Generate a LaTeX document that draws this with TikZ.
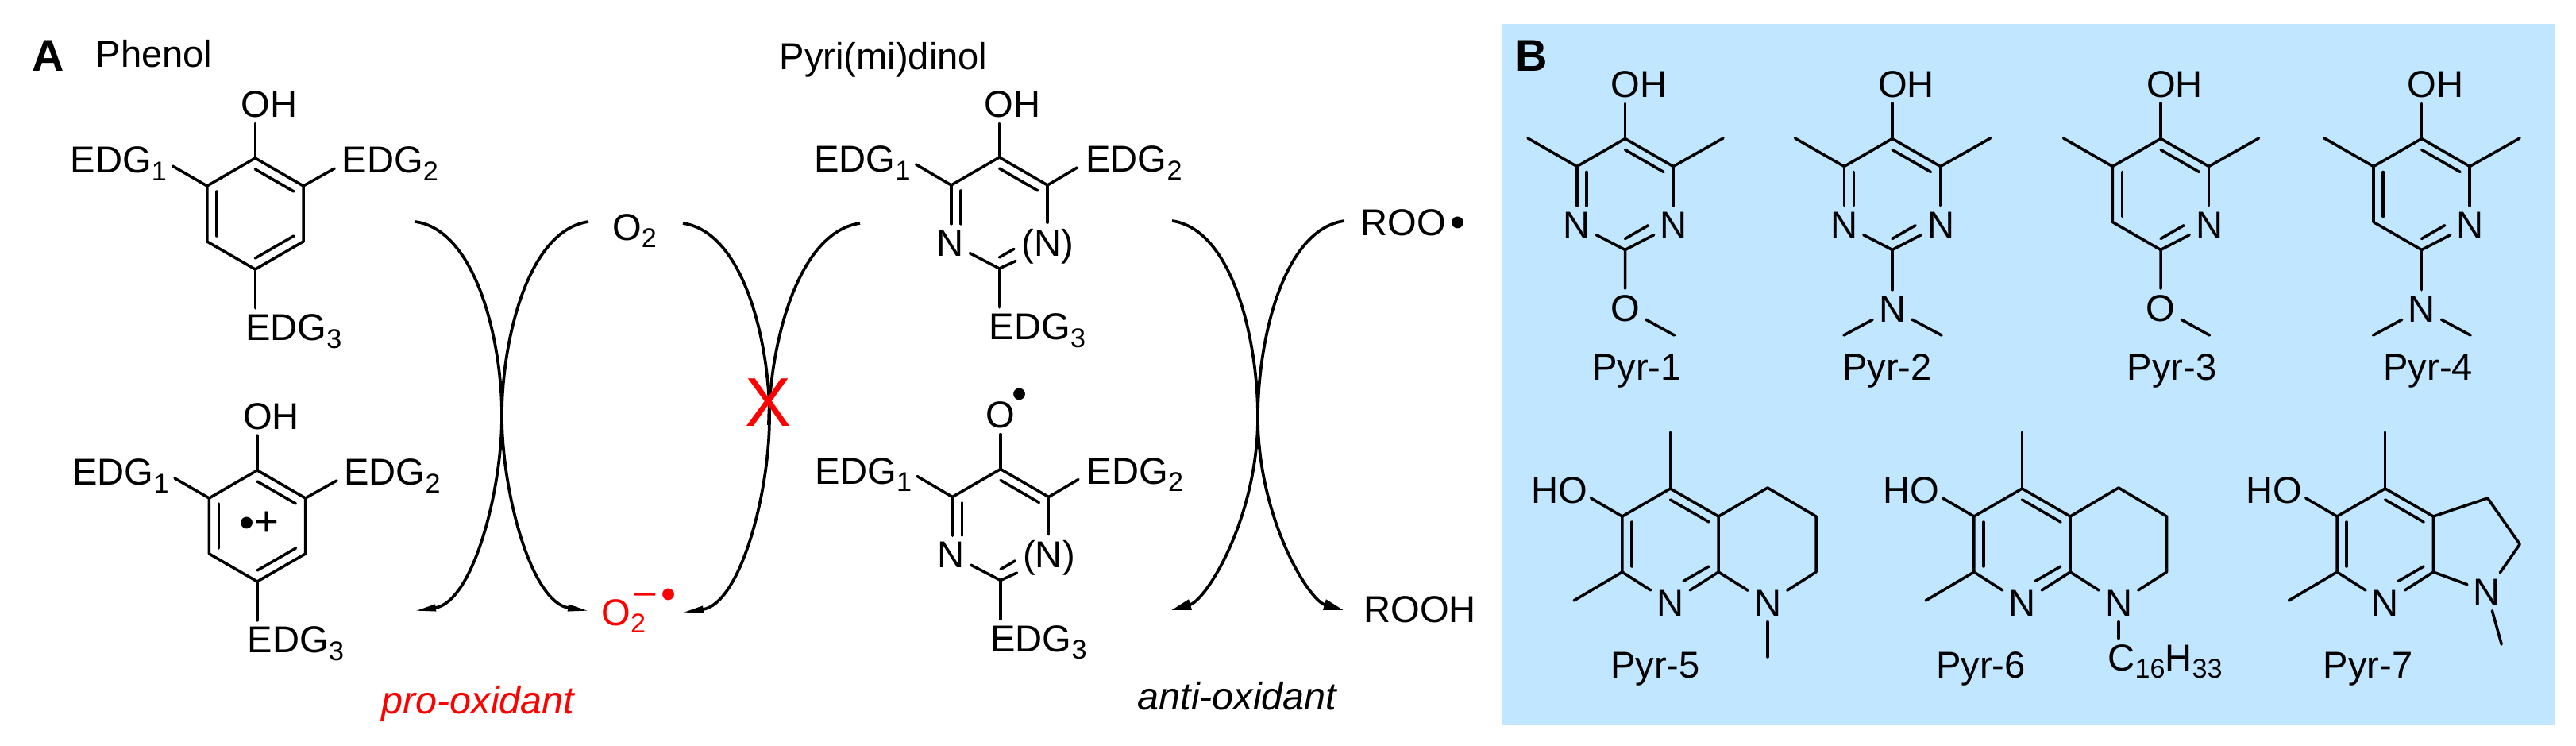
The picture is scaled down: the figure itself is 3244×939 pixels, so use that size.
\documentclass[tikz,border=0pt]{standalone}
\usepackage{fontspec}
\setmainfont{Liberation Sans}
\usepackage{tikz}
\usetikzlibrary{arrows.meta, calc}
\definecolor{panelblue}{RGB}{193,230,255}
\tikzstyle{atom} = [font=\fontsize{13.4}{15}\selectfont, inner sep=2pt, anchor=base]
\tikzstyle{tag} = [font=\fontsize{15.9}{17}\selectfont\bfseries, inner sep=0pt, anchor=base]
\tikzstyle{effect} = [font=\fontsize{13.8}{15}\selectfont\itshape, inner sep=0pt, anchor=base]
\tikzstyle{bond} = [line width=1pt, line cap=round, line join=round]
\tikzstyle{curve} = [line width=1.05pt]
\tikzstyle{arrow} = [line width=1.05pt, -{Triangle[length=2.7mm,width=0.8mm]}]
\tikzstyle{bigarrow} = [line width=1.05pt, -{Triangle[length=2.5mm,width=1.3mm]}]
\newcommand{\sbs}[1]{\raisebox{-.21em}{\fontsize{9.7}{10}\selectfont #1}}
\newcommand{\rad}{\raisebox{-.6pt}{\fontsize{15.5}{16}\selectfont •}}
\newcommand{\hexring}{%
  \foreach \i/\a in {1/-90,2/-30,3/30,4/90,5/150,6/210} {
    \coordinate (c\i) at (\a:70);
    \coordinate (i\i) at (\a:56);
  }}
\newcommand{\phenolbody}{%
  \hexring
  \node (oh) [atom] at (17.5,-122) {OH};
  \node (edg1) [atom] at (-172,-51.5) {EDG\sbs{1}};
  \node (edg2) [atom] at (170,-51.5) {EDG\sbs{2}};
  \node (edg3) [atom] at (48.5,159.5) {EDG\sbs{3}};
  \coordinate (e1) at (-104,-60);
  \coordinate (e2) at (100,-57);
  \draw [bond] (c1) -- (c2) -- (c3) -- (c4) -- (c5) -- (c6) -- cycle;
  \draw [bond] (i1) -- (i2);
  \draw [bond] (i3) -- (i4);
  \draw [bond] (i5) -- (i6);
  \draw [bond] (c1) -- (c1 |- oh.south);
  \draw [bond] (c6) -- (e1);
  \draw [bond] (c2) -- (e2);
  \draw [bond] (c4) -- (c4 |- edg3.north);
}
\newcommand{\pyrimbody}{%
  \hexring
  \node (edg1) [atom] at (-172.5,-51.5) {EDG\sbs{1}};
  \node (edg2) [atom] at (169.5,-51.5) {EDG\sbs{2}};
  \node (edg3) [atom] at (48,159.5) {EDG\sbs{3}};
  \node (n5) [atom] at (-62,54) {N};
  \node (n3) [atom] at (61,54) {(N)};
  \coordinate (e1) at (-105,-61);
  \coordinate (e2) at (98,-57);
  \draw [bond] (c6) -- (c1) -- (c2);
  \draw [bond] (i1) -- (i2);
  \draw [bond] (c6) -- (c6 |- n5.north);
  \draw [bond] (i6) -- (i6 |- n5.north);
  \draw [bond] (c2) -- (c2 |- n3.north);
  \draw [bond] (n5) -- (c4) -- (n3);
  \draw [bond] (i4) -- ($(i4)!.38!(i3)$);
  \draw [bond] (c6) -- (e1);
  \draw [bond] (c2) -- (e2);
  \draw [bond] (c4) -- (c4 |- edg3.north);
}
\newcommand{\pyrbody}{%
  \hexring
  \node (oh) [atom] at (17.5,-122.5) {OH};
  \node (n3) [atom] at (61,54.5) {N};
  \coordinate (m1) at (-122.5,-70.5);
  \coordinate (m2) at (123.5,-70.5);
  \draw [bond] (m1) -- (c6) -- (c1) -- (c2) -- (m2);
  \draw [bond] (c1) -- (c1 |- oh.south);
  \draw [bond] (c2) -- (c2 |- n3.north);
  \draw [bond] (c4) -- (n3);
  \draw [bond] (i1) -- (i2);
  \draw [bond] (i4) -- ($(i4)!.6!(i3)$);
}
\newcommand{\fusedbody}{%
  \hexring
  \node (ho) [atom] at (-139.5,-52) {HO};
  \node (n4) [atom] at (0,90) {N};
  \coordinate (h1) at (-100,-58);
  \coordinate (m1) at (0,-141);
  \coordinate (m2) at (-121.5,71);
  \draw [bond] (n4) -- (c5) -- (c6) -- (c1) -- (c2) -- (c3) -- (n4);
  \draw [bond] (c6) -- (h1);
  \draw [bond] (c1) -- (m1);
  \draw [bond] (c5) -- (m2);
  \draw [bond] (i1) -- (i2);
  \draw [bond] (i6) -- (i5);
  \draw [bond] (i3) -- ($(i3)!.66!(i4)$);
}

\begin{document}
\begin{tikzpicture}[x=0.01cm,y=-0.01cm]
\useasboundingbox (0,0) rectangle (3244,939);
% Panel
\fill [panelblue] (1892,30) rectangle (3217,913);
\node (taga) [tag] at (61,89) {A};
\node (tagb) [tag] at (1928.5,89) {B};
\node (phenol) [atom] at (194,84) {Phenol};
\node (pyridinol) [atom] at (1112.5,87) {Pyri(mi)dinol};

% Phenol and its radical cation
\begin{scope}[shift={(321.4,269)}, name prefix=ph-]
\phenolbody
\end{scope}
\begin{scope}[shift={(324,662)}, name prefix=phr-]
\phenolbody
\node (cation) [atom, font=\fontsize{15}{16}\selectfont] at (2,12) {\rad+};
\end{scope}

% Pyri(mi)dinol and its radical
\begin{scope}[shift={(1258.5,268)}, name prefix=py-]
\pyrimbody
\node (oh) [atom] at (16.5,-121) {OH};
\draw [bond] (c1) -- (c1 |- oh.south);
\end{scope}
\begin{scope}[shift={(1260,660.5)}, name prefix=pyr-]
\pyrimbody
\node (o) [atom] at (0,-122) {O};
\node (odot) [atom] at (24,-148) {\rad};
\draw [bond] (c1) -- (c1 |- o.south);
\end{scope}

% Species
\node (o2) [atom] at (799,302) {O\sbs{2}};
\node (sox) [atom, text=red] at (804.5,787) {O\sbs{2}\hspace{-4pt}\raisebox{7.5pt}{–}\hspace{2pt}\raisebox{6.3pt}{\rad}};
\node (roo) [atom] at (1779.5,296) {ROO\hspace{1.6pt}\rad};
\node (rooh) [atom] at (1788,783) {ROOH};
\node (pro) [effect, text=red] at (602,898) {pro-oxidant};
\node (anti) [effect] at (1558,893) {anti-oxidant};

% Curved arrows
\coordinate (a1) at (523,279);
\coordinate (a2) at (522,769);
\coordinate (a3) at (741,279);
\coordinate (a4) at (742,769);
\coordinate (a5) at (860,281);
\coordinate (a6) at (859,771);
\coordinate (a7) at (1083,281);
\coordinate (a8) at (968,535);
\coordinate (a9) at (1476,278);
\coordinate (a10) at (1475,768);
\coordinate (a11) at (1693,278);
\coordinate (a12) at (1692,768);
\draw [arrow] (a1) .. controls (600,290) and (632,430) .. (632,523) .. controls (632,620) and (595,758) .. (a2);
\draw [arrow] (a3) .. controls (664,290) and (632,430) .. (632,523) .. controls (632,620) and (669,758) .. (a4);
\draw [arrow] (a5) .. controls (937,292) and (969,432) .. (969,525) .. controls (969,622) and (932,760) .. (a6);
\draw [curve] (a7) .. controls (1005,292) and (969,432) .. (a8);
\draw [bigarrow] (a9) .. controls (1553,289) and (1584,430) .. (1584,525) .. controls (1584,650) and (1520,755) .. (a10);
\draw [bigarrow] (a11) .. controls (1615,289) and (1584,430) .. (1584,525) .. controls (1584,650) and (1647,755) .. (a12);
\node (block) [inner sep=0pt, text=red, font=\fontsize{24.7}{26}\selectfont] at (967.5,507) {X};

% Pyr-1 to Pyr-4
\begin{scope}[shift={(2046.5,244.5)}, name prefix=pyra-]
\pyrbody
\node (n5) [atom] at (-61,54.5) {N};
\node (o) [atom] at (0,159.5) {O};
\node (name) [atom] at (15,233.5) {Pyr-1};
\coordinate (me) at (62,177.5);
\draw [bond] (c6) -- (c6 |- n5.north);
\draw [bond] (i6) -- (i6 |- n5.north);
\draw [bond] (c4) -- (n5);
\draw [bond] (c4) -- (o) -- (me);
\end{scope}
\begin{scope}[shift={(2383,244.5)}, name prefix=pyrb-]
\pyrbody
\node (n5) [atom] at (-61,54.5) {N};
\node (n7) [atom] at (0,160.5) {N};
\node (name) [atom] at (-6.5,233.5) {Pyr-2};
\coordinate (me1) at (-61,177.5);
\coordinate (me2) at (62,177.5);
\draw [bond] (c6) -- (c6 |- n5.north);
\draw [bond] (i6) -- (i6 |- n5.north);
\draw [bond] (c4) -- (n5);
\draw [bond] (c4) -- (n7);
\draw [bond] (me1) -- (n7) -- (me2);
\end{scope}
\begin{scope}[shift={(2721,244.5)}, name prefix=pyrc-]
\pyrbody
\node (o) [atom] at (0,159.5) {O};
\node (name) [atom] at (14,233.5) {Pyr-3};
\coordinate (me) at (61.5,177.5);
\draw [bond] (c6) -- (c5) -- (c4);
\draw [bond] (i6) -- (i5);
\draw [bond] (c4) -- (o) -- (me);
\end{scope}
\begin{scope}[shift={(3049.6,244.5)}, name prefix=pyrd-]
\pyrbody
\node (n7) [atom] at (0,160.5) {N};
\node (name) [atom] at (8,233.5) {Pyr-4};
\coordinate (me1) at (-61,177.5);
\coordinate (me2) at (61.5,177.5);
\draw [bond] (c6) -- (c5) -- (c4);
\draw [bond] (i6) -- (i5);
\draw [bond] (c4) -- (n7);
\draw [bond] (me1) -- (n7) -- (me2);
\end{scope}

% Pyr-5 to Pyr-7
\begin{scope}[shift={(2103.5,685)}, name prefix=pyre-]
\fusedbody
\node (n8) [atom] at (122.5,90) {N};
\node (name) [atom] at (-19,168) {Pyr-5};
\coordinate (r1) at (122.5,-71);
\coordinate (r2) at (183.5,-35);
\coordinate (r3) at (183.5,35);
\coordinate (me) at (122.5,142);
\draw [bond] (c2) -- (r1) -- (r2) -- (r3) -- (n8);
\draw [bond] (c3) -- (n8);
\draw [bond] (n8) -- (me);
\end{scope}
\begin{scope}[shift={(2546.5,685)}, name prefix=pyrf-]
\fusedbody
\node (n8) [atom] at (121.5,90) {N};
\node (name) [atom] at (-52,168) {Pyr-6};
\node (alkyl) [atom] at (180,159) {C\sbs{16}H\sbs{33}};
\coordinate (r1) at (121.5,-71);
\coordinate (r2) at (182,-35);
\coordinate (r3) at (182,35);
\draw [bond] (c2) -- (r1) -- (r2) -- (r3) -- (n8);
\draw [bond] (c3) -- (n8);
\draw [bond] (n8) -- (n8 |- alkyl.north);
\end{scope}
\begin{scope}[shift={(3003.7,685)}, name prefix=pyrg-]
\fusedbody
\node (n8) [atom] at (128,76) {N};
\node (name) [atom] at (-21.5,168) {Pyr-7};
\coordinate (r1) at (129,-58);
\coordinate (r2) at (169.5,0);
\coordinate (me) at (146.5,126);
\draw [bond] (c2) -- (r1) -- (r2) -- (n8);
\draw [bond] (c3) -- (n8);
\draw [bond] (n8) -- (me);
\end{scope}
\end{tikzpicture}
\end{document}
